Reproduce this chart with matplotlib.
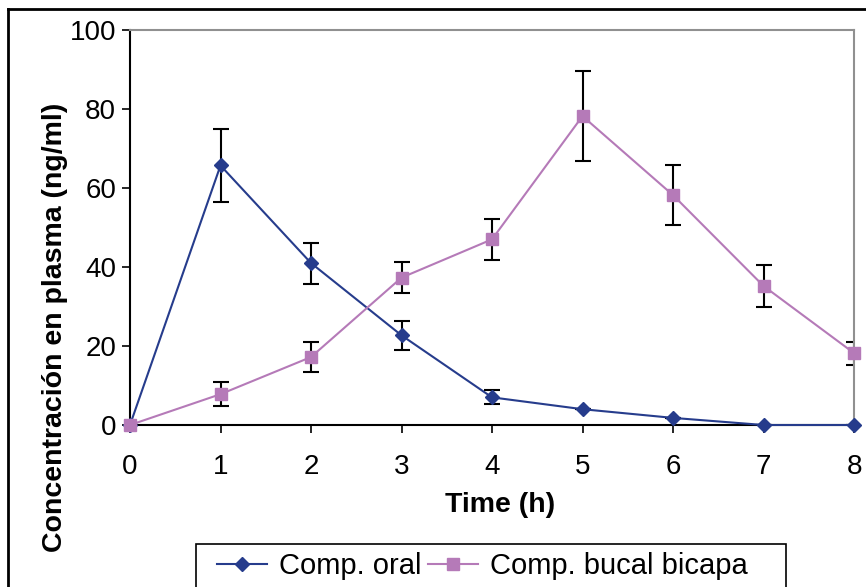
import matplotlib.pyplot as plt
from matplotlib.lines import Line2D
from matplotlib.patches import Rectangle

plt.rcParams['font.family'] = ['Liberation Sans', 'DejaVu Sans']

hours = [0, 1, 2, 3, 4, 5, 6, 7, 8]
oral = [0, 65.7, 41, 22.7, 7, 4, 1.8, 0, 0]
oral_err = [0, 9.2, 5.2, 3.6, 1.8, 0, 0, 0, 0]
bucal = [0, 7.8, 17.2, 37.3, 47, 78.2, 58.2, 35.2, 18.2]
bucal_err = [0, 3.0, 3.7, 3.9, 5.2, 11.3, 7.6, 5.3, 2.9]

oral_color = '#263c8c'
bucal_color = '#b57ab8'

fig = plt.figure(figsize=(8.66, 5.87), dpi=100)
ax = fig.add_axes([130/866, 1 - 425/587, (854 - 130)/866, (425 - 30)/587])

ax.errorbar(hours, oral, yerr=oral_err, fmt='none', ecolor='black',
            elinewidth=1.5, capsize=6, capthick=1.5, zorder=2)
ax.errorbar(hours, bucal, yerr=bucal_err, fmt='none', ecolor='black',
            elinewidth=1.5, capsize=6, capthick=1.5, zorder=2)
ax.plot(hours, oral, color=oral_color, marker='D', markersize=7.5, lw=1.5,
        label='Comp. oral', zorder=3, clip_on=False)
ax.plot(hours, bucal, color=bucal_color, marker='s', markersize=8, lw=1.5,
        label='Comp. bucal bicapa', zorder=3, clip_on=False)

ax.set_xlim(0, 8)
ax.set_ylim(0, 100)
ax.set_xticks(hours)
ax.set_yticks([0, 20, 40, 60, 80, 100])
ax.tick_params(axis='both', direction='out', length=6, width=1.2,
               labelsize=20, color='black')
ax.tick_params(axis='x', pad=15)
ax.tick_params(axis='y', pad=4)
for s in ['top', 'right']:
    ax.spines[s].set_color('#909090')
    ax.spines[s].set_linewidth(1.5)
for s in ['left', 'bottom']:
    ax.spines[s].set_color('black')
    ax.spines[s].set_linewidth(1.5)

ax.set_xlabel('Time (h)', fontsize=20.5, fontweight='bold')
ax.xaxis.label.set_va('center')
ax.xaxis.set_label_coords(0.511, -0.2025)
ax.set_ylabel('Concentración en plasma (ng/ml)', fontsize=20.5,
              fontweight='bold')
ax.yaxis.label.set_va('center')
ax.yaxis.set_label_coords(-0.1036, 0.248)

# legend box drawn separately (wider than its content, as in the source)
fig.add_artist(Rectangle((196/866, -0.05), (786 - 196)/866, 0.05 + 1 - 544/587,
                         transform=fig.transFigure, facecolor='white',
                         edgecolor='black', lw=1.2, zorder=4))
leg = fig.legend(loc='center left', bbox_to_anchor=(217/866, 1 - 566/587),
                 ncol=2, fontsize=21, frameon=False, handlelength=1.71,
                 columnspacing=0.25, handletextpad=0.4, borderpad=0,
                 borderaxespad=0)
leg.set_zorder(5)

# outer chart-area border (cut off at right and bottom)
fig.add_artist(Line2D([8/866, 8/866], [0, 1 - 9/587], color='black', lw=2,
                      transform=fig.transFigure))
fig.add_artist(Line2D([8/866, 1], [1 - 9/587, 1 - 9/587], color='black', lw=2,
                      transform=fig.transFigure))

fig.savefig('out.png', dpi=100)
